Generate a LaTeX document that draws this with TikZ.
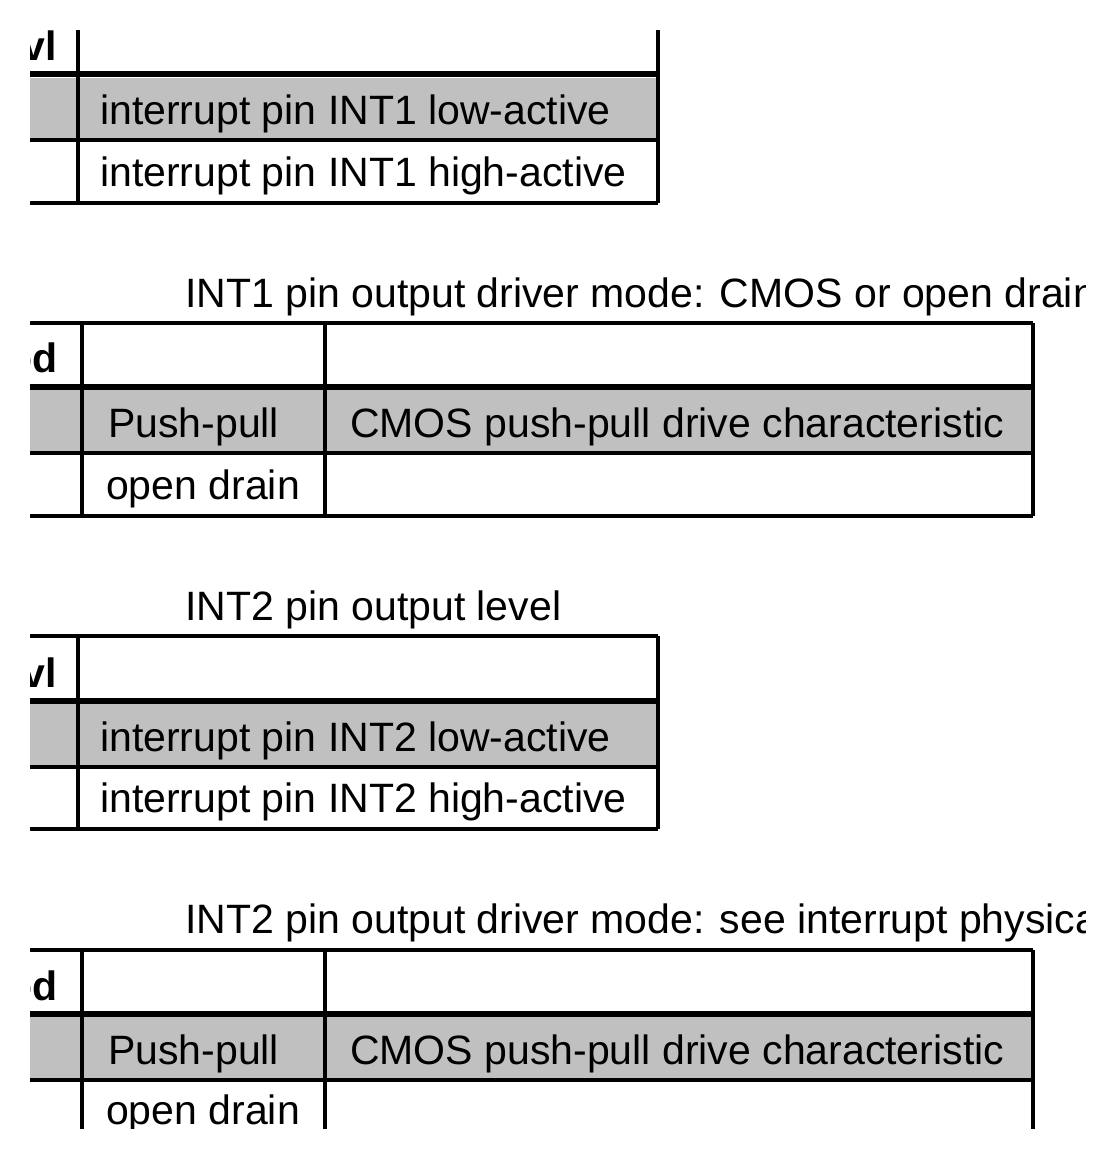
\documentclass[tikz,border=0pt]{standalone}
\usepackage{fontspec}
\setmainfont{Liberation Sans}
\definecolor{rowgray}{RGB}{192,192,192}
\begin{document}
\begin{tikzpicture}[x=1pt,y=-1pt,
  cell/.style={anchor=west,inner sep=0pt,font=\fontsize{41}{41}\selectfont},
  head/.style={anchor=east,inner sep=0pt,font=\fontsize{41}{41}\selectfont\bfseries},
  grid/.style={line width=3.2pt},
  thick rule/.style={line width=6pt}]
\useasboundingbox (0,0) rectangle (1113,1159);
\clip (30,30) rectangle (1085,1128);
% Table INT1 level
\fill[rowgray] (30,78) rectangle (658,140);
\draw[grid] (78,30) -- (78,203) (658,30) -- (658,203);
\draw[grid] (30,140) -- (658,140) (30,203) -- (658,203);
\draw[thick rule] (30,74) -- (658,74);
\node[head] (lvlA) at (57,46) {lvl};
\node[cell] (lowA) at (100,114) {interrupt pin INT1 low-active};
\node[cell] (highA) at (100,176) {interrupt pin INT1 high-active};
% Table INT1 driver mode
\node[cell] (colonB) at (20,297) {:};
\node[cell] (titleB) at (185,297) {INT1 pin output driver mode: CMOS or open drain};
\fill[rowgray] (30,390) rectangle (1033,453);
\draw[grid] (30,323) -- (1033,323) (30,453) -- (1033,453) (30,516) -- (1033,516);
\draw[grid] (82,323) -- (82,516) (325,323) -- (325,516) (1033,323) -- (1033,516);
\draw[thick rule] (30,387) -- (1033,387);
\node[head] (odB) at (58,358) {od};
\node[cell] (ppB) at (108,427) {Push-pull};
\node[cell] (cmosB) at (350,427) {CMOS push-pull drive characteristic};
\node[cell] (openB) at (106,489) {open drain};
% Table INT2 level
\node[cell] (titleC) at (185,610) {INT2 pin output level};
\fill[rowgray] (30,704) rectangle (658,767);
\draw[grid] (30,636) -- (658,636) (30,767) -- (658,767) (30,829) -- (658,829);
\draw[grid] (78,636) -- (78,829) (658,636) -- (658,829);
\draw[thick rule] (30,701) -- (658,701);
\node[head] (lvlC) at (57,673) {lvl};
\node[cell] (lowC) at (100,741) {interrupt pin INT2 low-active};
\node[cell] (highC) at (100,802) {interrupt pin INT2 high-active};
% Table INT2 driver mode
\node[cell] (colonD) at (20,923) {:};
\node[cell] (titleD) at (185,923) {INT2 pin output driver mode: see interrupt physical};
\fill[rowgray] (30,1017) rectangle (1033,1080);
\draw[grid] (30,950) -- (1033,950) (30,1080) -- (1033,1080);
\draw[grid] (82,950) -- (82,1130) (325,950) -- (325,1130) (1033,950) -- (1033,1130);
\draw[thick rule] (30,1014) -- (1033,1014);
\node[head] (odD) at (58,986) {od};
\node[cell] (ppD) at (108,1054) {Push-pull};
\node[cell] (cmosD) at (350,1054) {CMOS push-pull drive characteristic};
\node[cell] (openD) at (106,1114) {open drain};
\end{tikzpicture}
\end{document}
